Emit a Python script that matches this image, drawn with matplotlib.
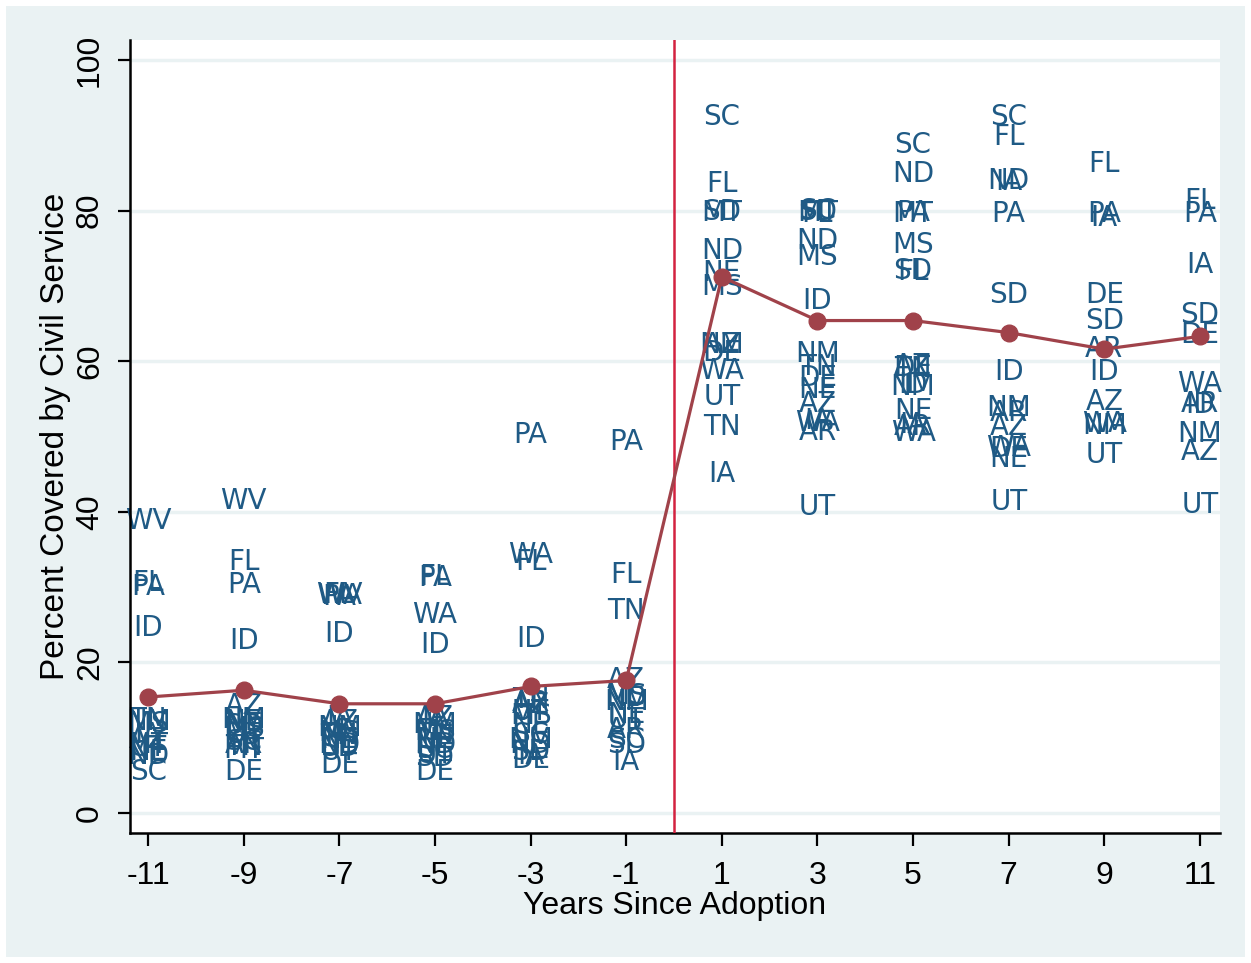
import matplotlib.pyplot as plt
from matplotlib.patches import Rectangle

# mean percent covered, by years since adoption
years = [-11, -9, -7, -5, -3, -1, 1, 3, 5, 7, 9, 11]
means = [15.4, 16.3, 14.5, 14.5, 16.8, 17.6, 71.2, 65.4, 65.4, 63.8, 61.6, 63.3]

# state labels for each year (same order as years)
label_states = [
    ["WV", "FL", "PA", "ID", "TN", "NM", "MS", "IA", "AZ", "MT", "UT", "NE", "ND", "SC"],
    ["WV", "FL", "PA", "ID", "AZ", "NM", "NE", "SD", "MS", "UT", "SC", "AR", "TN", "MT", "DE"],
    ["WV", "WA", "PA", "FL", "ID", "IA", "AZ", "NM", "MS", "TN", "NE", "ND", "SD", "UT", "DE"],
    ["PA", "FL", "WA", "ID", "IA", "AZ", "NM", "MS", "TN", "NE", "ND", "SC", "UT", "SD", "DE"],
    ["PA", "WA", "FL", "ID", "TN", "AR", "AZ", "UT", "MS", "NE", "SC", "NM", "ND", "SD", "IA", "DE"],
    ["PA", "FL", "TN", "AZ", "MS", "ND", "NM", "NE", "UT", "AR", "SC", "SD", "IA"],
    ["SC", "FL", "SD", "MT", "ND", "NE", "MS", "AZ", "NM", "DE", "WA", "UT", "TN", "IA"],
    ["SC", "SD", "MT", "FL", "ND", "MS", "ID", "NM", "TN", "DE", "NE", "AZ", "WA", "IA", "AR", "UT"],
    ["SC", "ND", "PA", "MT", "MS", "SD", "FL", "AZ", "DE", "TN", "ID", "NM", "NE", "IA", "AR", "WA"],
    ["SC", "FL", "ND", "IA", "PA", "SD", "ID", "NM", "AR", "AZ", "WA", "DE", "NE", "UT"],
    ["FL", "PA", "IA", "DE", "SD", "AR", "ID", "AZ", "WA", "NM", "UT"],
    ["FL", "PA", "IA", "SD", "DE", "WA", "AR", "ID", "NM", "AZ", "UT"],
]
label_values = [
    [38.8, 30.5, 30.0, 24.6, 12.4, 12.1, 11.8, 10.4, 9.7, 9.0, 8.6, 8.1, 7.6, 5.4],
    [41.4, 33.3, 30.3, 22.8, 14.2, 12.4, 12.1, 11.6, 11.1, 10.4, 9.4, 9.0, 8.8, 8.4, 5.4],
    [28.9, 28.8, 28.7, 28.9, 23.8, 12.6, 12.1, 11.3, 10.6, 10.2, 9.7, 9.0, 8.6, 8.1, 6.4],
    [31.2, 31.3, 26.3, 22.3, 12.9, 12.6, 11.7, 10.8, 10.4, 9.7, 9.0, 8.4, 7.7, 7.3, 5.4],
    [50.2, 34.3, 33.3, 23.1, 15.0, 14.6, 14.3, 13.4, 12.9, 11.7, 10.4, 9.7, 9.0, 8.1, 7.6, 7.0],
    [49.3, 31.6, 26.8, 17.7, 15.5, 15.3, 14.7, 13.0, 12.4, 11.0, 9.7, 9.0, 6.8],
    [92.4, 83.5, 79.8, 79.7, 74.6, 71.7, 69.9, 62.2, 62.1, 61.1, 58.7, 55.2, 51.3, 45.0],
    [79.9, 79.8, 79.7, 79.6, 76.0, 73.8, 68.0, 61.0, 59.2, 57.8, 56.2, 54.3, 51.8, 52.0, 50.6, 40.6],
    [88.7, 84.9, 79.7, 79.6, 75.4, 72.0, 71.8, 59.3, 59.1, 58.9, 56.8, 56.6, 53.4, 51.5, 51.2, 50.5],
    [92.4, 89.8, 83.9, 83.8, 79.5, 68.8, 58.6, 53.8, 53.1, 51.3, 48.5, 48.4, 47.0, 41.3],
    [86.2, 79.5, 79.0, 68.8, 65.3, 61.6, 58.6, 54.6, 51.6, 51.4, 47.5],
    [81.3, 79.5, 72.8, 66.1, 63.5, 57.0, 54.3, 54.2, 50.3, 47.9, 40.9],
]

BG = "#eaf2f3"
LABEL_COLOR = "#1f5a85"
LINE_COLOR = "#a0424a"
REF_COLOR = "#d32240"
NARROW = ["Liberation Sans Narrow", "DejaVu Sans"]
SANS = ["Liberation Sans", "DejaVu Sans"]

fig = plt.figure(figsize=(12.51, 9.63), dpi=100, facecolor="white")
fig.patches.append(Rectangle((6 / 1251, 6 / 963), 1239 / 1251, 951 / 963,
                             transform=fig.transFigure, facecolor=BG,
                             edgecolor="none", zorder=-10))
ax = fig.add_axes([130 / 1251, 130 / 963, 1090 / 1251, 793 / 963])
ax.set_facecolor("white")

for v in range(0, 101, 20):
    ax.axhline(v, color=BG, lw=2.5, zorder=0)

for yr, states, vals in zip(years, label_states, label_values):
    for st, val in zip(states, vals):
        ax.text(yr, val, st, ha="center", va="center", color=LABEL_COLOR,
                fontsize=20, family=NARROW, zorder=2)

ax.axvline(0, color=REF_COLOR, lw=1.8, zorder=3)
ax.plot(years, means, "-o", color=LINE_COLOR, lw=2.3, ms=12, zorder=4)

ax.set_xlim(-11.38, 11.42)
ax.set_ylim(-2.66, 102.66)
ax.set_xticks(years)
ax.set_xticklabels([str(y) for y in years], family=SANS, fontsize=23)
ax.set_yticks(range(0, 101, 20))
ax.set_yticklabels([str(v) for v in range(0, 101, 20)], family=SANS,
                   fontsize=23, rotation=90, va="center")
ax.tick_params(axis="both", length=9, width=1.6, color="black")
ax.tick_params(axis="x", pad=11)
ax.tick_params(axis="y", pad=9)

for s in ["top", "right"]:
    ax.spines[s].set_visible(False)
for s in ["left", "bottom"]:
    ax.spines[s].set_linewidth(1.8)

ax.set_xlabel("Years Since Adoption", family=SANS, fontsize=23, labelpad=0)
ax.set_ylabel("Percent Covered by Civil Service", family=SANS, fontsize=24, labelpad=3)

fig.savefig("out.png", dpi=100, facecolor="white")
